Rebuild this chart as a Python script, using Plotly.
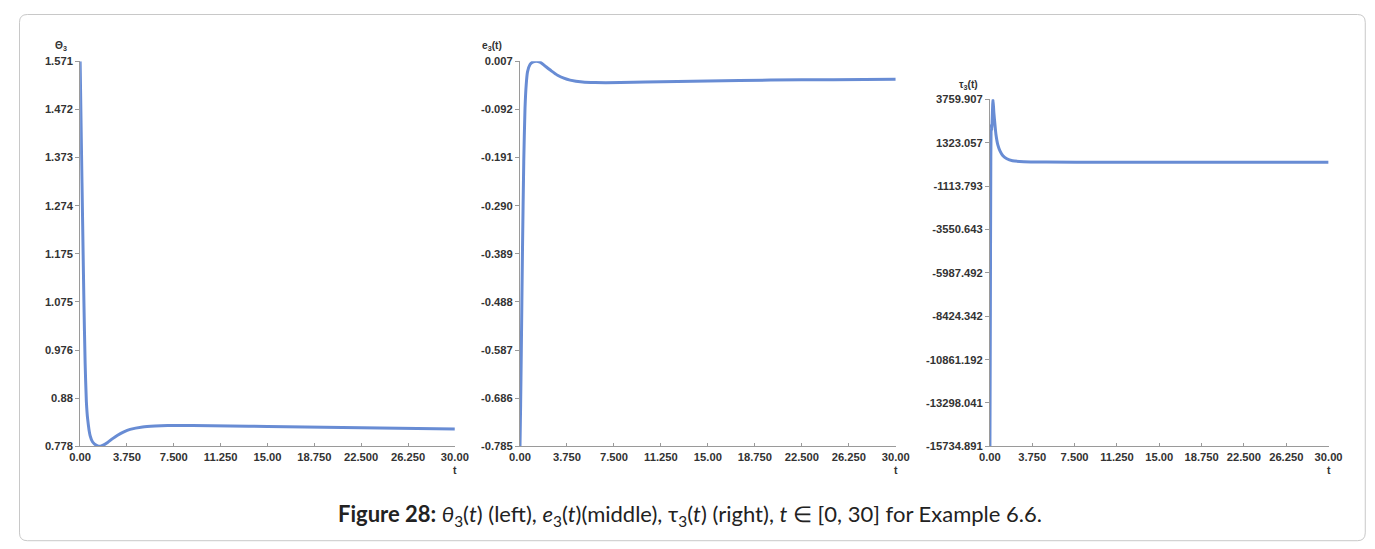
import numpy as np
import plotly.graph_objects as go

# ---------------- data ----------------
x_tick_labels = ["0.00", "3.750", "7.500", "11.250", "15.00", "18.750", "22.500", "26.250", "30.00"]

theta_t = [0, 0.1, 0.2, 0.3, 0.4, 0.5, 0.6, 0.8, 1.0, 1.3, 1.5, 1.8, 2.2, 2.6, 3.0, 3.5, 4.0, 5.0, 6.0, 7.0, 9, 12, 15, 18, 21, 24, 27, 30]
theta_v = [1.571, 1.40, 1.24, 1.08, 0.95, 0.87, 0.835, 0.80, 0.787, 0.780, 0.778, 0.780, 0.786, 0.794, 0.801, 0.808, 0.813, 0.818, 0.820, 0.821, 0.821, 0.820, 0.819, 0.818, 0.817, 0.816, 0.815, 0.814]
theta_ticks = ["0.778", "0.88", "0.976", "1.075", "1.175", "1.274", "1.373", "1.472", "1.571"]

e_t = [0, 0.05, 0.1, 0.2, 0.3, 0.4, 0.5, 0.6, 0.8, 1.0, 1.3, 1.6, 2.0, 2.5, 3.0, 3.5, 4.0, 5.0, 6.0, 8, 10, 15, 20, 25, 30]
e_v = [-0.785, -0.70, -0.60, -0.38, -0.20, -0.09, -0.04, -0.015, 0.000, 0.005, 0.007, 0.005, -0.003, -0.013, -0.022, -0.028, -0.032, -0.036, -0.037, -0.037, -0.036, -0.034, -0.032, -0.031, -0.030]
e_ticks = ["-0.785", "-0.686", "-0.587", "-0.488", "-0.389", "-0.290", "-0.191", "-0.092", "0.007"]

tau_t = [0, 0.04, 0.08, 0.12, 0.16, 0.2, 0.27, 0.35, 0.45, 0.53, 0.7, 0.9, 1.15, 1.5, 2.0, 3.0, 5.0, 10, 20, 30]
tau_v = [-15734.891, -8000, 500, 2400, 2000, 2600, 3759.907, 3000, 2300, 1800, 1200, 850, 590, 420, 310, 250, 230, 225, 220, 220]
tau_ticks = ["-15734.891", "-13298.041", "-10861.192", "-8424.342", "-5987.492", "-3550.643", "-1113.793", "1323.057", "3759.907"]

# mapping from target screen pixels to figure pixels (measured page offset / scale)
SX, OX, SY, OY = 0.98, 18.0, 0.975, 15.0
W, H = 1385, 548
def fx(d):
    return (d - OX) / SX
def fy(d):
    return (d - OY) / SY
def px(d):
    return fx(d) / W
def py(d):
    return 1 - fy(d) / H

LINE = "rgb(104,140,212)"
AX = "#9a9a9a"
TF = dict(family="Liberation Sans", size=11.2, color="#333333", weight="bold")

fig = go.Figure()

panels = [
    (theta_t, theta_v, theta_ticks, 79, 453, 62, 446, "Θ<sub>3</sub>", 60, 47),
    (e_t, e_v, e_ticks, 518, 893, 62, 446, "e<sub>3</sub>(t)", 490, 47),
    (tau_t, tau_v, tau_ticks, 987, 1325, 100, 446, "τ<sub>3</sub>(t)", 966, 86),
]

xt_vals = list(np.linspace(0, 30, len(x_tick_labels)))

for i, (tt, vv, yticks, x0, x1, y0, y1, title, tx, ty) in enumerate(panels):
    n = "" if i == 0 else str(i + 1)
    fig.add_trace(go.Scatter(x=tt, y=vv, mode="lines", line=dict(color=LINE, width=3, shape="spline", smoothing=0.6),
                             xaxis="x" + n, yaxis="y" + n, showlegend=False, hoverinfo="skip"))
    ymin, ymax = float(yticks[0]), float(yticks[-1])
    yt_vals = list(np.linspace(ymin, ymax, len(yticks)))
    fig.update_layout(**{
        "xaxis" + n: dict(domain=[px(x0), px(x1)], anchor="y" + n, range=[0, 30],
                          tickvals=xt_vals, ticktext=x_tick_labels, showgrid=False, zeroline=False,
                          showline=True, linecolor=AX, linewidth=1, ticks="inside", ticklen=3,
                          tickcolor=AX, tickfont=TF),
        "yaxis" + n: dict(domain=[py(y1), py(y0)], anchor="x" + n, range=[ymin, ymax],
                          tickvals=yt_vals, ticktext=yticks, showgrid=False, zeroline=False,
                          showline=True, linecolor=AX, linewidth=1, ticks="outside", ticklen=4,
                          tickcolor=AX, tickfont=TF),
    })
    fig.add_annotation(x=px(tx), y=py(ty), xref="paper", yref="paper", text="<b>" + title + "</b>",
                       showarrow=False, font=dict(family="Liberation Sans", size=10.2, color="#333333"),
                       xanchor="center", yanchor="middle")
    fig.add_annotation(x=px(x1), y=py(470), xref="paper", yref="paper", text="<b>t</b>",
                       showarrow=False, font=dict(family="Liberation Sans", size=10.5, color="#333333"),
                       xanchor="center", yanchor="middle")

caption = ("<b>Figure 28:</b> <i>θ</i><sub>3</sub>(<i>t</i>) (left), <i>e</i><sub>3</sub>(<i>t</i>)(middle), "
           "τ<sub>3</sub>(<i>t</i>) (right), <i>t</i> ∈ [0, 30] for Example 6.6.")
fig.add_annotation(x=px(688), y=py(514), xref="paper", yref="paper", text=caption, showarrow=False,
                   font=dict(family="Lato", size=22, color="#222222"), xanchor="center", yanchor="middle")

# rounded border box (as close to the reference edge as the page allows)
bx0, bx1, by0, by1, r = 0.5, 1371.0, 0.5, 538.5, 8
path = (f"M {(bx0 + r) / W},{1 - by0 / H} L {(bx1 - r) / W},{1 - by0 / H} Q {bx1 / W},{1 - by0 / H} {bx1 / W},{1 - (by0 + r) / H} "
        f"L {bx1 / W},{1 - (by1 - r) / H} Q {bx1 / W},{1 - by1 / H} {(bx1 - r) / W},{1 - by1 / H} "
        f"L {(bx0 + r) / W},{1 - by1 / H} Q {bx0 / W},{1 - by1 / H} {bx0 / W},{1 - (by1 - r) / H} "
        f"L {bx0 / W},{1 - (by0 + r) / H} Q {bx0 / W},{1 - by0 / H} {(bx0 + r) / W},{1 - by0 / H} Z")
fig.add_shape(type="path", path=path, xref="paper", yref="paper", line=dict(color="#c8c8c8", width=1))

fig.update_layout(width=W, height=H, margin=dict(l=0, r=0, t=0, b=0),
                  paper_bgcolor="white", plot_bgcolor="white")

fig.write_html("out.html")
